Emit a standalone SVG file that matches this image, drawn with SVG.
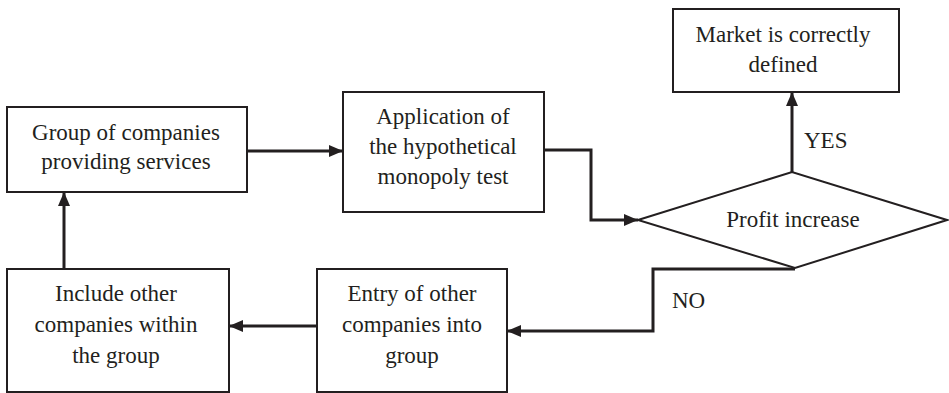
<svg xmlns="http://www.w3.org/2000/svg" width="949" height="393" viewBox="0 0 949 393">
<style>
.box{fill:#fff;stroke:#231f20;stroke-width:2}
.t{font-family:"Liberation Serif","Times New Roman",serif;font-size:23px;fill:#231f20;text-anchor:middle}
.c{fill:none;stroke:#231f20;stroke-width:3;marker-end:url(#ah)}
.l{font-family:"Liberation Serif","Times New Roman",serif;font-size:23px;fill:#231f20}
</style>
<defs>
<marker id="ah" viewBox="0 0 14 12" refX="14" refY="6" markerWidth="14" markerHeight="12" markerUnits="userSpaceOnUse" orient="auto">
<path d="M0,0 L14,6 L0,12 z" fill="#231f20"/>
</marker>
</defs>
<rect width="949" height="393" fill="#fff"/>
<g id="connectors">
<path class="c" d="M247,151 H343"/>
<path class="c" d="M544,150 H591 V220 H638"/>
<path class="c" d="M792,172 V92"/>
<path class="c" d="M795,269 H653 V331 H507"/>
<path class="c" d="M317,326 H229"/>
<path class="c" d="M64,269 V192"/>
<text class="l" x="804" y="148">YES</text>
<text class="l" x="672" y="308">NO</text>
</g>
<g id="group">
<rect class="box" x="7" y="107" width="240" height="85"/>
<text class="t" x="126" y="140">Group of companies</text>
<text class="t" x="126" y="169">providing services</text>
</g>
<g id="application">
<rect class="box" x="343" y="92" width="201" height="120"/>
<text class="t" x="443" y="124">Application of</text>
<text class="t" x="443" y="154">the hypothetical</text>
<text class="t" x="443" y="184">monopoly test</text>
</g>
<g id="profit">
<path class="box" d="M638,220 L792,172 L947,220 L795,268 Z"/>
<text class="t" x="793" y="227">Profit increase</text>
</g>
<g id="market">
<rect class="box" x="673" y="9" width="226" height="83"/>
<text class="t" x="783" y="42">Market is correctly</text>
<text class="t" x="783" y="72">defined</text>
</g>
<g id="entry">
<rect class="box" x="317" y="269" width="190" height="123"/>
<text class="t" x="412" y="301">Entry of other</text>
<text class="t" x="412" y="332">companies into</text>
<text class="t" x="412" y="363">group</text>
</g>
<g id="include">
<rect class="box" x="7" y="269" width="222" height="123"/>
<text class="t" x="116" y="301">Include other</text>
<text class="t" x="116" y="332">companies within</text>
<text class="t" x="116" y="363">the group</text>
</g>
</svg>
